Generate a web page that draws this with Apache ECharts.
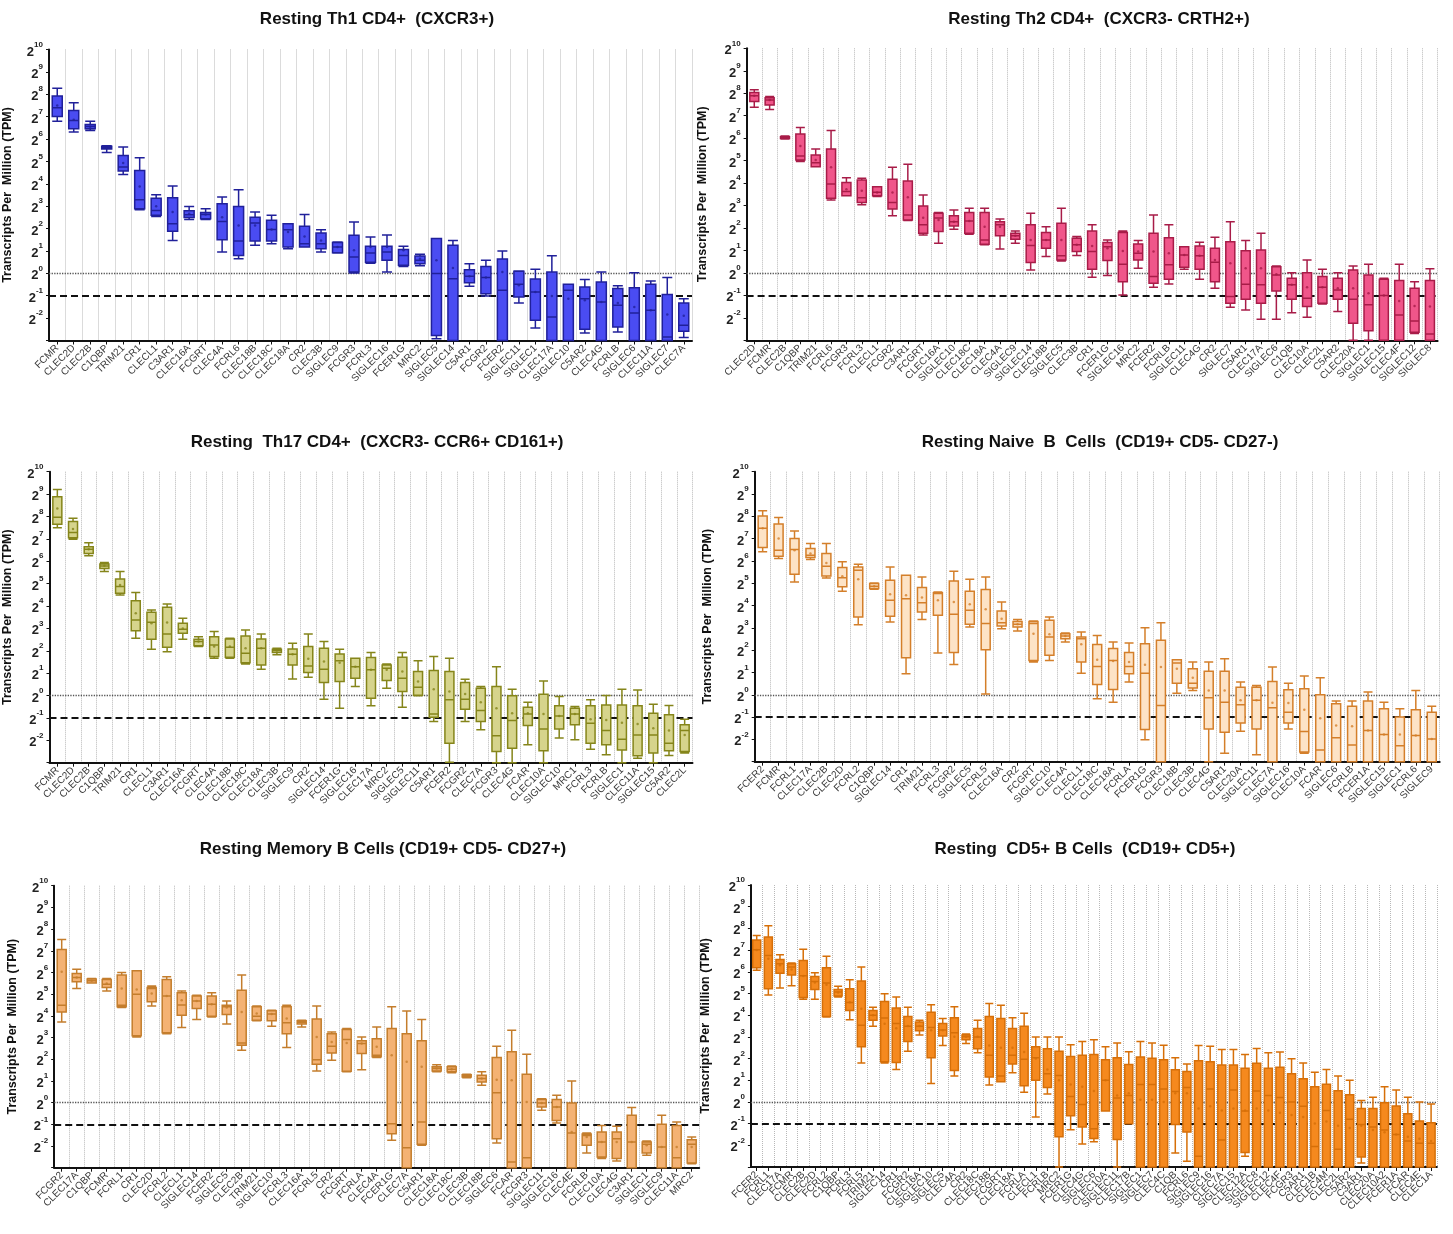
<!DOCTYPE html>
<html>
<head>
<meta charset="utf-8">
<script src="https://cdn.jsdelivr.net/npm/echarts@6/dist/echarts.min.js"></script>
<style>
html,body{margin:0;padding:0;background:#fff}
#chart{width:1453px;height:1234px}
</style>
</head>
<body>
<div id="chart"></div>
<script>
// Expression values are log2(TPM); each box item is [min, Q1, median, Q3, max].

const titleTh1 = 'Resting Th1 CD4+  (CXCR3+)';
const catsTh1 = ['FCMR','CLEC2D','CLEC2B','C1QBP','TRIM21','CR1','CLECL1','C3AR1','CLEC16A','FCGRT','CLEC4A','FCRL6','CLEC18B','CLEC18C','CLEC18A','CR2','CLEC3B','SIGLEC9','FCGR3','FCRL3','SIGLEC16','FCER1G','MRC2','SIGLEC5','SIGLEC14','C5AR1','FCGR2','FCER2','SIGLEC11','SIGLEC1','CLEC17A','SIGLEC10','C5AR2','CLEC4G','FCRLB','SIGLEC6','CLEC11A','SIGLEC7','CLEC7A'];
const boxTh1 = [
 [6.80,7.01,7.40,7.92,8.27],[6.31,6.46,6.83,7.28,7.62],[6.38,6.46,6.56,6.65,6.80],[5.40,5.55,5.62,5.68,5.70],
 [4.42,4.57,4.75,5.27,5.64],[2.84,2.89,3.29,4.60,5.16],[2.54,2.59,2.81,3.36,3.51],[1.47,1.88,2.22,3.38,3.90],
 [2.40,2.49,2.62,2.80,2.99],[2.40,2.44,2.63,2.72,2.89],[0.95,1.50,2.32,3.11,3.41],[0.65,0.80,1.44,2.99,3.74],
 [1.25,1.44,2.25,2.51,2.74],[1.32,1.44,1.96,2.37,2.59],[1.10,1.18,1.95,2.22,2.22],[1.18,1.18,1.32,2.10,2.63],
 [0.95,1.10,1.32,1.80,1.95],[0.91,0.92,1.18,1.38,1.40],[0.01,0.06,0.73,1.70,2.29],[0.45,0.50,0.91,1.21,1.62],
 [0.06,0.58,0.95,1.21,1.71],[0.31,0.36,0.80,1.07,1.21],[0.34,0.43,0.58,0.77,0.85],[-2.92,-2.78,-0.01,1.56,1.56],
 [-3,-3,-0.24,1.25,1.47],[-0.58,-0.42,-0.13,0.16,0.43],[-1.01,-0.91,-0.19,0.31,0.58],[-3,-3,-0.76,0.64,1.00],
 [-1.32,-1.06,-0.49,0.09,0.10],[-2.44,-2.10,-0.83,-0.25,0.18],[-3,-3,-1.95,0.06,0.79],[-3,-3,-0.76,-0.49,-0.49],
 [-2.66,-2.50,-1.13,-0.61,-0.28],[-3,-3,-1.28,-0.39,0.06],[-2.62,-2.40,-1.43,-0.68,-0.55],[-3,-3,-1.77,-0.64,0.03],
 [-3,-3,-1.65,-0.49,-0.34],[-3,-3,-2.84,-0.94,-0.19],[-2.87,-2.59,-2.32,-1.32,-1.13]
];
const meanTh1 = [7.50,6.86,6.55,5.62,4.93,3.88,3.00,2.74,2.66,2.63,2.51,2.14,2.14,1.96,1.85,1.65,1.47,1.18,1.03,1.18,1.18,1.03,0.65,0.58,0.24,-0.13,-0.19,0.06,-0.53,-0.83,-1.01,-1.13,-1.20,-1.28,-1.32,-1.50,-1.65,-1.84,-1.89];

const titleTh2 = 'Resting Th2 CD4+  (CXCR3- CRTH2+)';
const catsTh2 = ['CLEC2D','FCMR','CLEC2B','C1QBP','TRIM21','FCRL6','FCGR3','FCRL3','CLECL1','FCGR2','C3AR1','FCGRT','CLEC16A','SIGLEC10','CLEC18C','CLEC18A','CLEC4A','SIGLEC9','SIGLEC14','CLEC18B','SIGLEC5','CLEC3B','CR1','FCER1G','SIGLEC16','MRC2','FCER2','FCRLB','SIGLEC11','CLEC4G','CR2','SIGLEC7','C5AR1','CLEC17A','SIGLEC6','C1QB','CLEC10A','CLEC2L','C5AR2','CLEC20A','SIGLEC1','SIGLEC15','CLEC4F','SIGLEC12','SIGLEC8'];
const boxTh2 = [
 [7.37,7.63,7.89,8.03,8.15],[7.28,7.48,7.70,7.80,7.85],[5.96,5.98,6.02,6.06,6.10],[4.96,5.03,5.21,6.19,6.47],
 [4.73,4.73,4.91,5.25,5.52],[3.25,3.32,3.96,5.52,6.34],[3.44,3.44,3.62,4.02,4.24],[3.04,3.13,3.35,4.14,4.21],
 [3.40,3.43,3.59,3.84,3.84],[2.54,2.85,3.13,4.17,4.70],[2.33,2.36,2.58,4.09,4.84],[1.69,1.77,2.14,2.98,3.47],
 [1.32,1.84,2.44,2.66,2.69],[1.94,2.09,2.28,2.54,2.80],[1.72,1.77,2.31,2.69,2.88],[1.25,1.28,1.47,2.69,2.88],
 [1.07,1.65,2.14,2.28,2.40],[1.32,1.50,1.66,1.77,1.87],[0.13,0.46,1.22,2.14,2.66],[0.73,1.10,1.47,1.80,2.06],
 [0.53,0.58,0.76,2.21,2.88],[0.77,0.95,1.25,1.54,1.62],[-0.19,0.16,0.95,1.87,2.14],[-0.12,0.55,1.17,1.35,1.47],
 [-0.98,-0.39,0.39,1.80,1.87],[0.21,0.58,0.88,1.29,1.44],[-0.64,-0.46,-0.16,1.77,2.58],[-0.49,-0.28,0.36,1.57,2.14],
 [0.16,0.25,0.80,1.17,1.17],[-0.28,0.16,0.76,1.20,1.36],[-0.68,-0.39,0.47,1.10,1.59],[-1.53,-1.35,-1.05,1.39,2.28],
 [-1.65,-1.17,-0.50,0.99,1.44],[-2.06,-1.35,-0.53,1.02,1.77],[-2.06,-0.80,-0.09,0.28,0.31],[-1.77,-1.17,-0.53,-0.24,0.01],
 [-1.97,-1.50,-1.13,0.01,0.58],[-1.38,-1.35,-0.64,-0.16,0.16],[-1.72,-1.17,-0.76,-0.24,0.01],[-3,-2.24,-1.17,0.13,0.31],
 [-3,-2.57,-1.42,-0.09,0.39],[-3,-3,-1.00,-0.28,-0.24],[-3,-3,-1.87,-0.34,0.39],[-2.70,-2.64,-2.14,-0.68,-0.39],
 [-3,-3,-2.72,-0.34,0.18]
];
const meanTh2 = [7.89,7.70,6.03,5.65,5.03,4.70,3.72,3.66,3.58,3.58,3.37,2.46,2.36,2.28,2.31,2.06,2.06,1.66,1.47,1.47,1.47,1.25,1.20,1.10,0.98,0.95,0.95,0.88,0.80,0.76,0.58,0.43,0.21,0.21,-0.06,-0.53,-0.64,-0.64,-0.68,-0.68,-0.91,-1.00,-1.25,-1.47,-1.50];

const titleTh17 = 'Resting  Th17 CD4+  (CXCR3- CCR6+ CD161+)';
const catsTh17 = ['FCMR','CLEC2D','CLEC2B','C1QBP','TRIM21','CR1','CLECL1','C3AR1','CLEC16A','FCGRT','CLEC4A','CLEC18B','CLEC18C','CLEC18A','CLEC3B','SIGLEC9','CR2','SIGLEC14','FCER1G','SIGLEC16','CLEC17A','MRC2','SIGLEC5','SIGLEC11','C5AR1','FCER2','FCGR2','CLEC7A','FCGR3','CLEC4G','FCAR','CLEC10A','SIGLEC10','MRC1','FCRL3','FCRLB','SIGLEC1','CLEC11A','SIGLEC15','C5AR2','CLEC2L'];
const boxTh17 = [
 [7.50,7.65,7.96,8.88,9.21],[6.98,7.05,7.28,7.77,7.92],[6.24,6.35,6.53,6.65,6.83],[5.54,5.68,5.79,5.88,5.94],
 [4.49,4.57,4.87,5.21,5.54],[2.56,2.90,3.38,4.24,4.60],[2.07,2.51,3.27,3.72,3.82],[1.96,2.16,2.75,3.94,4.09],
 [2.51,2.78,2.96,3.23,3.45],[2.19,2.22,2.41,2.51,2.63],[1.67,1.74,2.26,2.63,2.86],[1.67,1.71,2.16,2.53,2.56],
 [1.41,1.47,1.89,2.66,2.93],[1.18,1.37,2.11,2.53,2.75],[1.82,1.92,2.01,2.07,2.11],[0.74,1.37,1.85,2.08,2.34],
 [0.82,1.03,1.32,2.19,2.75],[-0.16,0.58,1.18,2.11,2.41],[-0.57,0.63,1.55,1.86,2.07],[0.40,0.77,1.29,1.67,1.67],
 [-0.46,-0.12,1.15,1.70,1.92],[0.33,0.67,1.22,1.37,1.41],[-0.52,0.18,0.77,1.71,1.92],[-0.01,0.01,0.37,1.07,1.56],
 [-1.16,-0.97,-0.82,1.12,1.74],[-2.98,-2.13,-0.19,1.07,1.67],[-1.16,-0.61,-0.16,0.58,0.73],[-1.53,-1.16,-0.67,0.33,0.40],
 [-3,-2.50,-1.80,0.40,1.29],[-3,-2.35,-1.12,-0.01,0.28],[-2.20,-1.34,-0.82,-0.52,-0.30],[-3,-2.47,-1.50,0.06,0.65],
 [-1.90,-1.50,-0.91,-0.46,-0.04],[-1.98,-1.31,-0.82,-0.57,-0.49],[-2.40,-2.13,-1.24,-0.46,-0.19],[-2.65,-2.20,-1.56,-0.42,0.00],
 [-3,-2.43,-1.95,-0.42,0.28],[-2.80,-2.69,-1.76,-0.46,0.25],[-3,-2.57,-1.76,-0.79,-0.39],[-2.68,-2.47,-2.13,-0.86,-0.45],
 [-2.57,-2.50,-1.56,-1.31,-1.06]
];
const meanTh17 = [8.36,7.44,6.53,5.80,4.94,3.68,3.23,3.26,2.99,2.41,2.19,2.19,2.11,2.11,2.01,1.85,1.64,1.52,1.47,1.29,1.15,1.15,1.07,0.63,0.28,0.18,0.07,-0.30,-0.57,-0.79,-0.79,-0.82,-0.91,-0.82,-1.06,-1.09,-1.21,-1.27,-1.46,-1.56,-1.76];

const titleNaiveB = 'Resting Naive  B  Cells  (CD19+ CD5- CD27-)';
const catsNaiveB = ['FCER2','FCMR','FCRL1','CLEC17A','CLEC2B','CLEC2D','FCRL2','C1QBP','SIGLEC14','CR1','TRIM21','FCRL3','FCGR2','SIGLEC5','FCRL5','CLEC16A','CR2','FCGRT','SIGLEC10','CLEC4A','CLECL1','CLEC18C','CLEC18A','FCRLA','FCER1G','FCGR3','CLEC18B','CLEC3B','CLEC4G','C5AR1','CLEC20A','SIGLEC11','CLEC7A','SIGLEC16','CLEC10A','FCAR','SIGLEC6','FCRLB','FCER1A','SIGLEC15','SIGLEC1','FCRL6','SIGLEC9'];
const boxNaiveB = [
 [6.41,6.60,7.46,8.01,8.25],[6.11,6.21,6.48,7.65,7.95],[5.06,5.40,6.51,7.01,7.34],[6.06,6.15,6.26,6.56,6.78],
 [5.24,5.33,5.76,6.33,6.78],[4.64,4.84,5.25,5.70,5.96],[3.14,3.49,5.58,5.73,5.85],[4.73,4.76,4.87,4.99,5.01],
 [3.26,3.52,4.24,5.13,5.73],[0.94,1.66,4.31,5.36,5.36],[3.37,3.71,4.13,4.81,5.28],[1.87,3.56,4.54,4.57,4.61],
 [1.36,1.89,3.61,5.10,5.54],[3.04,3.16,3.79,4.64,5.18],[0.04,2.02,3.19,4.72,5.28],[2.96,3.08,3.23,3.76,4.16],
 [2.86,3.04,3.16,3.29,3.37],[1.47,1.54,3.19,3.29,3.31],[1.54,1.77,2.59,3.34,3.49],[2.37,2.51,2.63,2.74,2.77],
 [0.97,1.47,2.51,2.59,2.81],[-0.18,0.46,1.27,2.25,2.66],[-0.33,0.24,1.54,2.07,2.37],[0.57,0.94,1.27,1.89,2.32],
 [-2.02,-1.56,0.97,2.29,3.01],[-3,-3,-0.48,2.44,3.23],[0.07,0.52,1.42,1.57,1.57],[0.19,0.30,0.52,1.17,1.47],
 [-3,-1.53,-0.13,1.05,1.47],[-2.62,-1.68,-0.33,1.06,1.62],[-1.63,-1.26,-0.45,0.34,0.57],[-2.69,-1.53,-0.25,0.34,0.42],
 [-3,-3,-0.58,0.60,1.24],[-1.53,-1.26,-0.78,0.22,0.52],[-2.62,-2.57,-1.65,0.27,0.84],[-3,-3,-2.47,0.00,0.76],
 [-3,-3,-1.93,-0.40,-0.28],[-3,-3,-2.25,-0.51,-0.28],[-3,-3,-1.60,-0.28,0.12],[-3,-3,-1.78,-0.63,-0.33],
 [-3,-3,-2.28,-1.00,-0.63],[-3,-3,-1.83,-0.67,0.19],[-3,-3,-1.98,-0.78,-0.51]
];
const meanNaiveB = [7.46,7.01,6.48,6.33,5.91,5.31,5.18,4.87,4.51,4.46,4.36,4.24,4.16,4.06,3.83,3.41,3.16,2.74,2.71,2.63,2.26,1.57,1.51,1.47,1.35,1.24,1.17,0.76,0.19,0.19,-0.25,-0.25,-0.36,-0.37,-0.67,-1.05,-1.38,-1.41,-1.60,-1.78,-1.78,-1.83,-1.98];

const titleMemB = 'Resting Memory B Cells (CD19+ CD5- CD27+)';
const catsMemB = ['FCGR2','CLEC17A','C1QBP','FCMR','FCRL1','CR1','CLEC2D','FCRL2','CLECL1','SIGLEC14','FCER2','SIGLEC5','CLEC2B','TRIM21','SIGLEC10','FCRL3','CLEC16A','FCRL5','CR2','FCGRT','FCRLA','CLEC4A','FCER1G','CLEC7A','C5AR1','CLEC18A','CLEC18C','CLEC3B','CLEC18B','SIGLEC6','FCAR','FCGR3','SIGLEC11','SIGLEC16','CLEC4E','FCRLB','CLEC10A','CLEC4G','C3AR1','SIGLEC1','SIGLEC9','CLEC11A','MRC2'];
const boxMemB = [
 [3.72,4.18,4.49,7.06,7.52],[5.26,5.57,5.77,5.95,6.15],[5.52,5.52,5.62,5.70,5.72],[5.15,5.31,5.46,5.68,5.72],
 [4.38,4.42,4.49,5.88,6.00],[3.03,3.08,5.00,6.08,6.08],[4.45,4.65,5.26,5.31,5.38],[3.18,3.22,4.91,5.68,5.80],
 [3.46,4.03,4.50,5.06,5.15],[3.83,4.34,4.68,4.91,4.95],[3.95,3.98,4.54,4.91,5.06],[3.62,4.06,4.42,4.49,4.69],
 [2.42,2.65,2.75,5.18,5.88],[3.77,3.80,3.98,4.42,4.45],[3.52,3.77,4.08,4.23,4.26],[2.54,3.18,3.68,4.42,4.49],
 [3.49,3.62,3.71,3.77,3.80],[1.46,1.77,1.98,3.85,4.45],[1.95,2.29,2.60,3.18,3.26],[1.42,1.45,2.91,3.37,3.42],
 [1.52,2.26,2.72,2.85,3.03],[2.08,2.11,2.18,2.95,3.49],[-1.74,-1.43,-0.97,3.42,4.42],[-3,-3,-2.08,3.18,4.22],
 [-1.97,-1.92,-0.89,2.85,3.83],[1.42,1.46,1.57,1.65,1.75],[1.38,1.42,1.54,1.65,1.69],[1.15,1.18,1.23,1.29,1.31],
 [0.80,0.95,1.11,1.26,1.42],[-1.86,-1.66,0.45,2.08,2.60],[-3,-3,-2.74,2.34,3.34],[-3,-3,-2.54,1.31,2.23],
 [-0.35,-0.20,-0.02,0.14,0.18],[-0.94,-0.82,-0.20,0.14,0.34],[-3,-3,-1.40,-0.02,1.00],[-2.32,-1.97,-1.51,-1.45,-1.40],
 [-2.58,-2.51,-1.82,-1.35,-1.05],[-2.69,-2.58,-1.66,-1.35,-1.09],[-3,-3,-1.82,-0.58,-0.23],[-2.43,-2.32,-1.92,-1.82,-1.77],
 [-3,-3,-2.05,-1.00,-0.58],[-3,-3,-2.54,-1.05,-0.89],[-2.82,-2.78,-1.92,-1.71,-1.58]
];
const meanMemB = [6.03,5.77,5.62,5.49,5.26,5.22,5.03,4.91,4.72,4.68,4.54,4.38,4.18,4.11,4.08,3.88,3.71,3.03,2.80,2.75,2.72,2.57,2.18,1.88,1.65,1.57,1.54,1.23,1.11,1.06,1.03,0.03,-0.02,-0.20,-1.35,-1.58,-1.82,-1.82,-1.82,-1.97,-2.05,-2.05,-2.05];

const titleCd5B = 'Resting  CD5+ B Cells  (CD19+ CD5+)';
const catsCd5B = ['FCER2','FCRL1','CLEC17A','FCMR','CLEC2B','CLEC2D','FCRL2','C1QBP','FCRL3','FCRL5','TRIM21','SIGLEC14','CR1','FCGR2','CLEC16A','SIGLEC10','SIGLEC5','CLEC4A','CR2','CLEC18C','CLEC18B','FCGRT','CLEC18A','FCRLA','CLECL1','FCRLB','MRC2','FCER1G','CLEC4G','SIGLEC6','CLEC10A','SIGLEC11','CLEC17B','SIGLEC1','SIGLEC7','CLEC4C','C1QB','FCRL6','SIGLEC9','SIGLEC16','CLEC7A','SIGLEC15','CLEC12A','SIGLEC8','SIGLEC12','CLEC4F','FCGR3','C5AR1','CLEC1B','CLEC4M','CLEC2L','C5AR2','C3AR1','CLEC20A','CLEC10A2','FCER1A','FCAR','CLEC4E','CLEC1A'];
const boxCd5B = [
 [6.07,6.18,7.01,7.46,7.67],[4.93,5.22,6.75,7.60,8.12],[5.25,5.93,6.37,6.57,6.79],[5.36,5.85,6.22,6.37,6.40],
 [4.73,4.81,5.82,6.52,7.04],[4.73,5.18,5.55,5.78,5.96],[3.91,3.94,5.48,6.19,6.72],[4.84,4.88,5.07,5.18,5.33],
 [3.79,4.21,4.58,5.22,5.63],[1.79,2.54,3.54,5.58,6.22],[3.49,3.76,3.99,4.21,4.36],[1.79,1.85,3.87,4.63,4.99],
 [1.49,1.82,3.61,4.33,4.84],[2.34,2.79,3.49,3.94,4.36],[3.09,3.28,3.49,3.69,3.76],[0.85,2.04,3.43,4.13,4.48],
 [2.60,3.04,3.31,3.61,3.84],[1.19,1.45,3.19,3.88,4.39],[2.69,2.87,3.01,3.09,3.13],[2.27,2.45,2.99,3.39,3.76],
 [0.78,1.15,2.15,3.94,4.54],[0.93,0.93,1.19,3.84,4.46],[1.34,1.75,2.15,3.39,3.88],[0.45,0.75,1.97,3.49,4.09],
 [-0.69,1.00,2.04,2.54,2.99],[0.36,0.66,1.30,2.45,2.99],[-3,-1.61,1.22,2.34,2.99],[-1.28,-0.64,0.25,2.09,2.64],
 [-1.94,-1.16,-0.12,2.15,2.79],[-1.84,-1.69,-1.24,2.19,2.87],[-0.42,-0.42,1.00,1.94,2.54],[-3,-1.73,0.18,2.04,2.72],
 [-1.01,-1.01,0.30,1.72,2.31],[-3,-3,0.80,2.07,2.79],[-3,-3,0.80,2.01,2.72],[-3,-3,0.60,1.94,2.61],
 [-2.36,-1.04,0.48,1.48,2.04],[-2.73,-1.39,0.66,1.40,1.75],[-3,-3,-2.51,1.90,2.60],[-3,-3,0.60,1.85,2.57],
 [-3,-3,-1.76,1.70,2.42],[-3,-3,0.55,1.70,2.42],[-2.51,-2.33,-0.42,1.55,2.19],[-3,-3,0.50,1.78,2.46],
 [-3,-3,0.30,1.55,2.27],[-3,-3,0.20,1.60,2.30],[-3,-3,0.00,1.30,1.99],[-3,-3,-0.20,1.07,1.79],
 [-3,-3,-2.06,0.70,1.37],[-3,-3,-0.40,0.81,1.49],[-3,-3,-2.18,0.51,1.19],[-3,-3,-0.80,0.33,1.00],
 [-2.81,-2.54,-1.04,-0.30,0.06],[-3,-3,-1.16,-0.30,0.21],[-3,-3,-1.30,-0.04,0.70],[-3,-3,-1.50,-0.19,0.55],
 [-3,-3,-1.80,-0.55,0.21],[-3,-3,-1.90,-0.88,0.00],[-3,-3,-1.90,-0.96,-0.09]
];
const meanCd5B = [7.0,6.6,6.3,6.1,5.8,5.5,5.4,5.05,4.6,4.3,4.0,3.6,3.4,3.5,3.5,3.3,3.3,3.0,3.0,3.0,2.6,2.5,2.5,2.3,2.0,1.5,1.0,0.8,0.7,0.5,1.0,0.3,0.4,0.1,0.1,0.0,0.4,0.4,-0.3,-0.2,-0.4,-0.3,-0.4,-0.3,-0.4,-0.5,-0.6,-0.7,-1.0,-0.9,-1.1,-1.2,-1.1,-1.3,-1.4,-1.5,-1.6,-1.7,-1.8];

// y axis: exponents of 2 from -3 (axis floor) to 10
const yMin = -3, yMax = 10;
const yAxisName = 'Transcripts Per  Million (TPM)';

// drawing styles and placement for each panel
const panels = [
  {title: titleTh1, cats: catsTh1, box: boxTh1, mean: meanTh1, fill: '#4a4cf2', edge: '#20209a'},
  {title: titleTh2, cats: catsTh2, box: boxTh2, mean: meanTh2, fill: '#f0568a', edge: '#a81c48'},
  {title: titleTh17, cats: catsTh17, box: boxTh17, mean: meanTh17, fill: '#d6d48c', edge: '#85851a'},
  {title: titleNaiveB, cats: catsNaiveB, box: boxNaiveB, mean: meanNaiveB, fill: '#fde3c6', edge: '#d47f2a'},
  {title: titleMemB, cats: catsMemB, box: boxMemB, mean: meanMemB, fill: '#f4b273', edge: '#c47d2c'},
  {title: titleCd5B, cats: catsCd5B, box: boxCd5B, mean: meanCd5B, fill: '#f5891e', edge: '#d66f08'}
];
const frames = [
  {left: 49,  top: 49.5,  width: 643, height: 291, titleX: 372,  titleY: 6,   nameGap: 35, boxW: 10},
  {left: 746.6, top: 48.3, width: 691, height: 292, titleX: 1094, titleY: 6,   nameGap: 38, boxW: 9},
  {left: 49.5, top: 471.7, width: 643, height: 291, titleX: 372,  titleY: 429, nameGap: 35, boxW: 9},
  {left: 754.7, top: 471.7, width: 685, height: 290, titleX: 1095, titleY: 429, nameGap: 41, boxW: 9},
  {left: 54.2, top: 885.7, width: 645, height: 282, titleX: 378,  titleY: 836, nameGap: 35, boxW: 9},
  {left: 750.9, top: 885,  width: 686, height: 282, titleX: 1080, titleY: 836, nameGap: 39, boxW: 8}
];

const font = 'Liberation Sans, Arial, sans-serif';
const option = {
  animation: false,
  backgroundColor: '#ffffff',
  title: [], grid: [], xAxis: [], yAxis: [], series: []
};

panels.forEach((p, i) => {
  const f = frames[i];
  option.title.push({
    text: p.title, left: f.titleX, top: f.titleY, textAlign: 'center',
    textStyle: {fontFamily: font, fontSize: 17, fontWeight: 'bold', color: '#111'}
  });
  option.grid.push({left: f.left, top: f.top, width: f.width, height: f.height, containLabel: false});
  option.xAxis.push({
    type: 'category', gridIndex: i, data: p.cats, boundaryGap: true,
    axisLine: {onZero: false, lineStyle: {color: '#111', width: 2}},
    axisTick: {show: true, alignWithLabel: true, length: 4, lineStyle: {color: '#111', width: 1}},
    axisLabel: {interval: 0, rotate: 45, fontFamily: font, fontSize: 10, color: '#3a3a3a', margin: 6, hideOverlap: false},
    splitLine: {show: true, interval: 0, lineStyle: {color: '#b8b8b8', type: 'dotted', width: 1}}
  });
  option.yAxis.push({
    type: 'value', gridIndex: i, min: yMin, max: yMax, interval: 1,
    name: yAxisName, nameLocation: 'middle', nameGap: f.nameGap,
    nameTextStyle: {fontFamily: font, fontSize: 12.5, fontWeight: 'bold', color: '#111'},
    axisLine: {show: true, onZero: false, lineStyle: {color: '#111', width: 2}},
    axisTick: {show: true, length: 3, lineStyle: {color: '#111'}},
    splitLine: {show: false},
    axisLabel: {
      margin: 6,
      formatter: v => v === yMin ? '' : '{b|2}{s|' + v + '}',
      rich: {
        b: {fontFamily: font, fontSize: 13, fontWeight: 'bold', color: '#222', lineHeight: 18, verticalAlign: 'bottom'},
        s: {fontFamily: font, fontSize: 8, fontWeight: 'bold', color: '#222', lineHeight: 18, verticalAlign: 'top'}
      }
    }
  });
  // reference levels at 2^0 (dotted) and 2^-1 (dashed), drawn beneath the boxes
  option.series.push({
    type: 'line', xAxisIndex: i, yAxisIndex: i, data: [], z: 1, silent: true,
    markLine: {
      silent: true, symbol: 'none', label: {show: false}, z: 1,
      data: [
        {yAxis: 0, lineStyle: {type: 'dotted', color: '#555', width: 1.3}},
        {yAxis: -1, lineStyle: {type: [7, 4], color: '#111', width: 2.2}}
      ]
    }
  });
  option.series.push({
    type: 'boxplot', xAxisIndex: i, yAxisIndex: i, data: p.box, z: 3,
    boxWidth: [f.boxW, f.boxW],
    itemStyle: {color: p.fill, borderColor: p.edge, borderWidth: 1.5},
    emphasis: {disabled: true}
  });
  option.series.push({
    type: 'scatter', xAxisIndex: i, yAxisIndex: i, data: p.mean, z: 4,
    symbol: 'circle', symbolSize: 2.5,
    itemStyle: {color: p.edge}, silent: true
  });
});

const chart = echarts.init(document.getElementById('chart'), null, {renderer: 'canvas'});
chart.setOption(option);
</script>
</body>
</html>
